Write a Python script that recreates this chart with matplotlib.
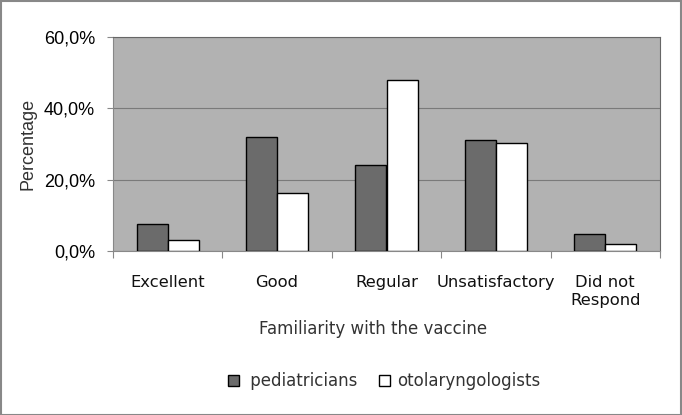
import matplotlib.pyplot as plt
import numpy as np
from matplotlib.patches import Rectangle
from matplotlib.ticker import FuncFormatter

categories = ['Excellent', 'Good', 'Regular', 'Unsatisfactory', 'Did not\nRespond']
pediatricians = [7.6, 32.0, 24.1, 31.1, 4.8]
otolaryngologists = [3.1, 16.3, 47.9, 30.3, 2.0]

fig = plt.figure(figsize=(6.82, 4.15), dpi=100)
ax = fig.add_axes([113 / 682, 1 - 251 / 415, 547 / 682, 214 / 415])
ax.set_facecolor('#b2b2b2')

x = np.arange(len(categories))
w = 0.285
ax.bar(x - w / 2, pediatricians, w, color='#6b6b6b', edgecolor='black', linewidth=1,
       label=' pediatricians', zorder=3)
ax.bar(x + w / 2, otolaryngologists, w, color='white', edgecolor='black', linewidth=1,
       label='otolaryngologists', zorder=3)

ax.set_xlim(-0.5, len(categories) - 0.5)
ax.set_ylim(0, 60)
ax.set_yticks([0, 20, 40, 60])
ax.yaxis.set_major_formatter(FuncFormatter(lambda v, p: f'{v:.1f}%'.replace('.', ',')))
ax.yaxis.grid(True, color='#7a7a7a', linewidth=0.8, zorder=0)
ax.tick_params(axis='y', labelsize=13, length=4, color='#888888', pad=9)
for t in ax.get_yticklabels():
    t.set_fontfamily('Liberation Sans')

# category labels between boundary ticks
ax.set_xticks(np.arange(-0.5, len(categories)), minor=False)
ax.set_xticklabels([])
ax.tick_params(axis='x', length=5, color='#888888')
for i, c in enumerate(categories):
    ax.annotate(c, (i, 0), xycoords=('data', 'axes fraction'), xytext=(0, -17),
                textcoords='offset points', ha='center', va='top', fontsize=11.8,
                fontfamily='DejaVu Sans', linespacing=1.3, color='#111111')

for s in ['top', 'right']:
    ax.spines[s].set_color('#666666')
ax.spines['left'].set_color('#888888')
ax.spines['bottom'].set_color('#888888')

ax.set_ylabel('Percentage', fontsize=13, fontfamily='Liberation Sans', color='#333333',
              labelpad=5)
fig.text(373 / 682, 1 - 329 / 415, 'Familiarity with the vaccine', ha='center', va='center',
         fontsize=12, color='#333333')

fig.legend(loc='center', bbox_to_anchor=(384 / 682, 1 - 381 / 415), ncol=2, frameon=False,
           fontsize=12, handlelength=0.65, handleheight=0.65, columnspacing=1.3,
           handletextpad=0.4, labelcolor='#333333')

fig.patches.append(Rectangle((0.001, 0.001), 0.998, 0.997, transform=fig.transFigure,
                             fill=False, edgecolor='#888888', linewidth=1.5))

fig.savefig('out.png', dpi=100)
